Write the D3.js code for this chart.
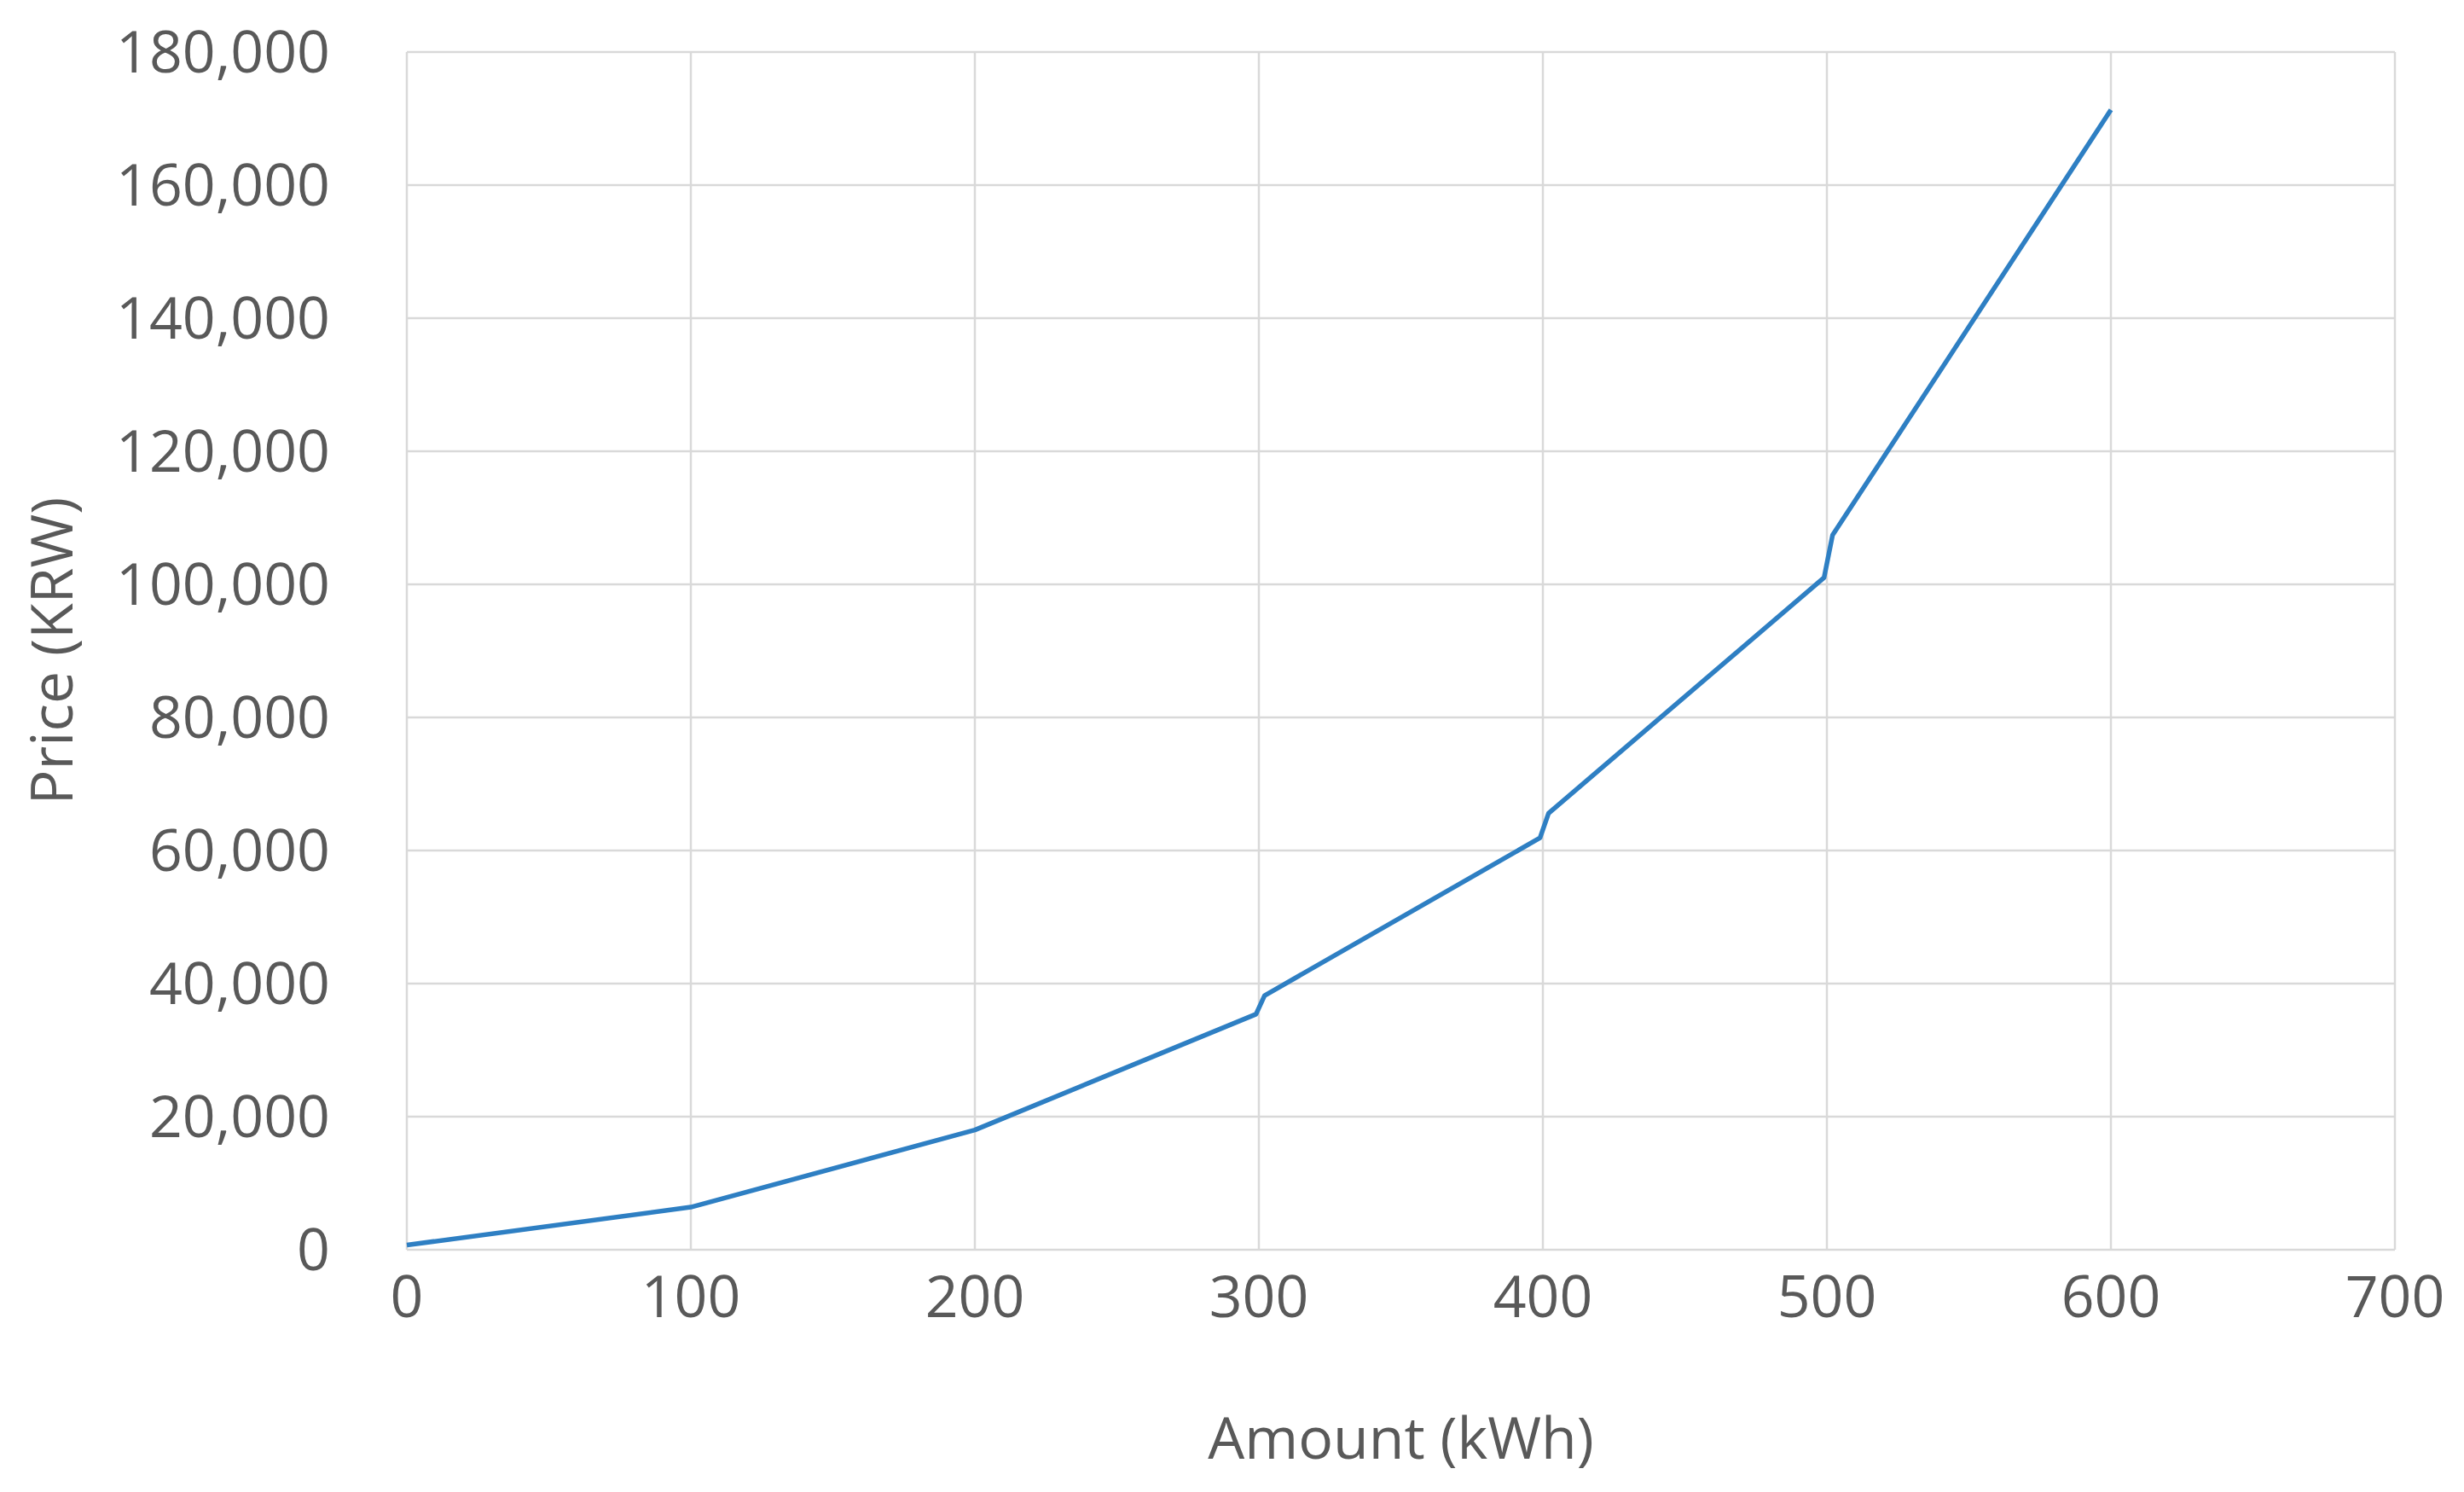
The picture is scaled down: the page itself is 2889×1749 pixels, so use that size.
<!DOCTYPE html>
<html><head><meta charset="utf-8">
<style>body{margin:0;background:#fff}text{font-family:"Open Sans",sans-serif;fill:#595959}</style>
</head><body>
<script src="https://d3js.org/d3.v7.min.js"></script>
<script>
var amount = [0, 100, 200, 299, 302, 399, 402, 499, 502, 600];
var price  = [700, 6400, 18000, 35400, 38200, 61900, 65600, 101000, 107400, 171300];
var xTicks = [0, 100, 200, 300, 400, 500, 600, 700];
var yTicks = [0, 20000, 40000, 60000, 80000, 100000, 120000, 140000, 160000, 180000];

var W = 2889, H = 1749;
var m = {left: 477, right: 81, top: 61, bottom: 284};

var svg = d3.select("body").append("svg").attr("width", W).attr("height", H);

var x = d3.scaleLinear().domain([0, 700]).range([m.left, W - m.right]);
var y = d3.scaleLinear().domain([0, 180000]).range([H - m.bottom, m.top]);

// grid
svg.selectAll(".gy").data(yTicks).enter().append("line")
  .attr("x1", x(0)).attr("x2", x(700))
  .attr("y1", function(d){ return y(d); }).attr("y2", function(d){ return y(d); })
  .attr("stroke", "#d9d9d9").attr("stroke-width", 2.5);
svg.selectAll(".gx").data(xTicks).enter().append("line")
  .attr("y1", y(0)).attr("y2", y(180000))
  .attr("x1", function(d){ return x(d); }).attr("x2", function(d){ return x(d); })
  .attr("stroke", "#d9d9d9").attr("stroke-width", 2.5);

var fmt = d3.format(",");
svg.selectAll(".yl").data(yTicks).enter().append("text")
  .attr("x", 387).attr("y", function(d){ return y(d); }).attr("dy", "0.35em")
  .attr("text-anchor", "end").attr("font-size", 68).text(fmt);
svg.selectAll(".xl").data(xTicks).enter().append("text")
  .attr("x", function(d){ return x(d); }).attr("y", 1520).attr("dy", "0.35em")
  .attr("text-anchor", "middle").attr("font-size", 68).text(fmt);

svg.append("text").attr("x", x(350)).attr("y", 1686).attr("dy", "0.35em")
  .attr("text-anchor", "middle").attr("font-size", 68).text("Amount (kWh)");
svg.append("text").attr("transform", "translate(61," + y(90000) + ")rotate(-90)")
  .attr("dy", "0.35em").attr("text-anchor", "middle").attr("font-size", 68).text("Price (KRW)");

var line = d3.line().x(function(d, i){ return x(amount[i]); }).y(function(d){ return y(d); });
svg.append("path").datum(price).attr("d", line)
  .attr("fill", "none").attr("stroke", "#2e7fc3").attr("stroke-width", 5.5)
  .attr("stroke-linejoin", "round");
</script>
</body></html>
